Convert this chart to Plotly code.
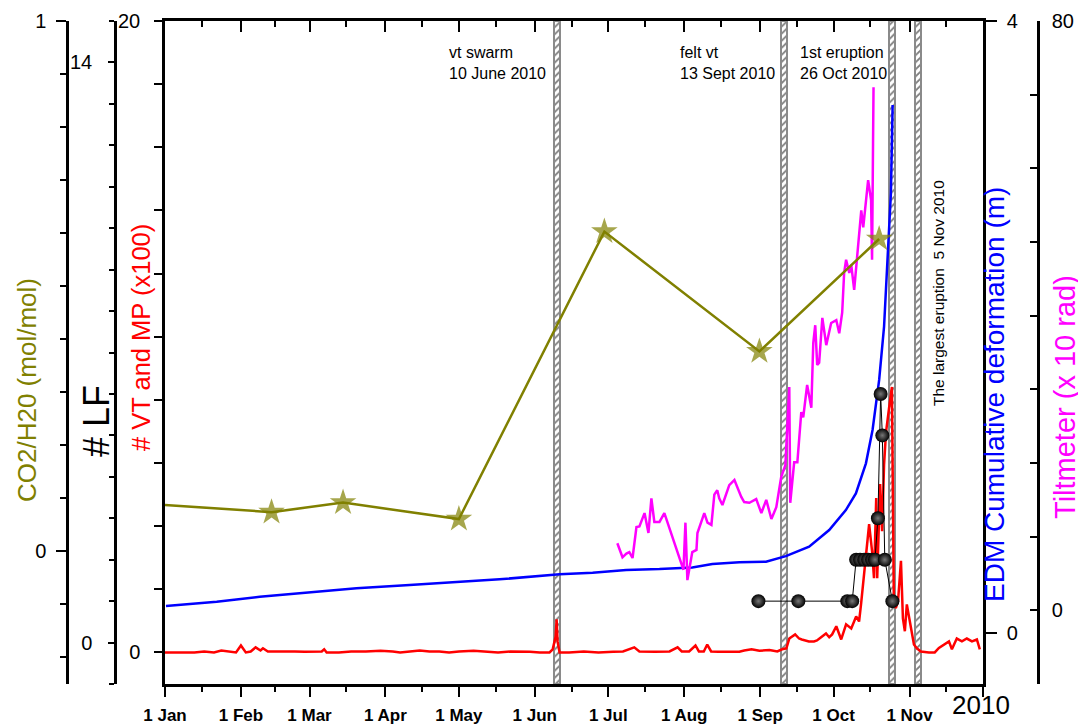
import plotly.graph_objects as go
from datetime import datetime, timedelta

# ---------------- data ----------------
month_ticks = ['2010-01-01', '2010-02-01', '2010-03-01', '2010-04-01', '2010-05-01', '2010-06-01',
               '2010-07-01', '2010-08-01', '2010-09-01', '2010-10-01', '2010-11-01', '2010-12-01']
month_labels = ['1 Jan', '1 Feb', '1 Mar', '1 Apr', '1 May', '1 Jun',
                '1 Jul', '1 Aug', '1 Sep', '1 Oct', '1 Nov', '']
mid_month_ticks = ['2010-01-16', '2010-02-15', '2010-03-16', '2010-04-16', '2010-05-16', '2010-06-16',
                   '2010-07-16', '2010-08-16', '2010-09-16', '2010-10-16', '2010-11-16']
year_label = '2010'

# event markers (hatched bars)
event_dates = ['2010-06-10 00:00', '2010-09-10 22:00', '2010-10-24 22:00', '2010-11-04 12:00']
event_texts = ['vt swarm<br>10 June 2010', 'felt vt<br>13 Sept 2010', '1st eruption<br>26 Oct 2010']
event_vertical_text = 'The largest eruption \u00a05 Nov 2010'

# days since 1 Jan 2010
red_day = [0, 4, 6, 12, 16, 20, 23, 26, 29, 31,
           33, 35, 37, 39, 40, 42, 45, 49, 53, 57,
           61, 64, 65, 66, 71, 76, 82, 88, 93, 96,
           100, 104, 108, 112, 116, 120, 126, 132, 136, 141,
           145, 149, 153, 157, 158.3, 159.5, 159.9, 160.3, 161.1, 165,
           171, 177, 183, 187, 191.6, 193.7, 200, 206, 209.3, 211,
           214, 216.6, 218, 220, 221.4, 223, 226, 230, 234.5, 236.5,
           239.5, 242.7, 246.8, 250, 252, 253.7, 254.9, 257.3, 258.9, 260,
           262.9, 265, 266.2, 267.9, 269.9, 271.2, 272.4, 274.1, 276.1, 278.1,
           280.2, 282.2, 283.4, 284.2, 285.5, 287.5, 288.7, 289.5, 290.4, 290.8,
           292, 292.8, 293.6, 294.4, 295.6, 296.8, 297.6, 298.4, 299.3, 300.5,
           301.3, 302.1, 302.9, 304.5, 305.8, 307, 308.6, 311.9, 314.3, 316,
           318, 320.1, 321.3, 323.3, 325.4, 327.4, 329.5, 331.5, 332.7]
red_vt_mp = [0, 0, 0.02, 0, 0.03, 0, 0.06, 0.03, 0, 0.22,
             0, 0.03, 0.16, 0.06, 0.13, 0.03, 0.03, 0.05, 0.03, 0.02,
             0.03, 0.03, 0.1, 0, 0, 0.03, 0.03, 0.05, 0.03, 0,
             0.03, 0.06, 0.03, 0.03, 0, 0.03, 0.05, 0.03, 0, 0.03,
             0.03, 0.02, 0, 0, 0.1, 0.5, 1.05, 0.35, 0, 0,
             0.03, 0, 0.02, 0.03, 0.16, 0.03, 0.02, 0.03, 0.16, 0.03,
             0.03, 0.22, 0.03, 0.03, 0.25, 0.03, 0.02, 0.02, 0.02, 0.06,
             0.1, 0.05, 0.08, 0.03, 0.1, 0.13, 0.44, 0.57, 0.44, 0.41,
             0.35, 0.35, 0.38, 0.48, 0.6, 0.48, 0.57, 0.83, 0.41, 0.89,
             0.76, 1.14, 0.98, 1.52, 2.48, 4.06, 3.21, 2.35, 4.89, 2.35,
             5.33, 3.84, 5.94, 6.98, 7.71, 8.41, 1.62, 1.4, 1.62, 2.9,
             1.08, 0.67, 1.52, 0.76, 0.25, 0.13, 0.03, 0, 0, 0.14,
             0.25, 0.35, 0.1, 0.44, 0.35, 0.44, 0.35, 0.41, 0.1]

edm_day = [0.4, 21.1, 38.7, 61.9, 78.2, 99.9, 120.3, 136.6, 161.1, 174.6,
           188.3, 201.9, 215.3, 223.5, 234.5, 245.4, 253.5, 263, 271.2, 278,
           282.1, 286.2, 288.9, 291.6, 293.6, 295.4, 296.4, 297.1]
edm_m = [0.176, 0.205, 0.237, 0.269, 0.292, 0.314, 0.335, 0.351, 0.384, 0.394,
         0.412, 0.418, 0.429, 0.451, 0.462, 0.466, 0.503, 0.564, 0.673, 0.804,
         0.913, 1.109, 1.327, 1.654, 2.002, 2.525, 2.876, 3.451]

tilt_day = [184.7, 186.8, 188.4, 189.6, 190.9, 192.5, 193.7, 195.8, 197.4, 198.6,
            199.8, 201.9, 203.9, 208.0, 211.7, 212.5, 213.3, 215.3, 217.0, 217.4,
            220.2, 221.5, 223.1, 224.3, 225.5, 226.3, 227.6, 230.4, 232.5, 235.3,
            236.5, 238.6, 241.4, 243.5, 245.5, 247.6, 249.6, 251.6, 253.3, 254.9,
            255.3, 256.9, 258.2, 259.8, 260.6, 262.2, 263.9, 264.7, 265.5, 266.3,
            267.1, 268.4, 270.0, 272.0, 274.1, 275.3, 276.5, 277.3, 278.1, 279.4,
            280.2, 281.4, 282.6, 284.3, 285.1, 286.3, 287.1, 288.3, 288.7, 289.1,
            289.3]
tilt_val = [9.1, 7.2, 7.7, 7.9, 7.1, 11.3, 11.4, 13.2, 10.5, 15.2,
            12.0, 12.0, 13.2, 9.1, 5.5, 11.9, 4.1, 7.9, 8.2, 10.5,
            13.2, 11.9, 11.6, 15.7, 16.3, 15.2, 14.3, 17.0, 17.7, 15.4,
            14.7, 14.6, 15.1, 13.2, 15.0, 12.4, 14.0, 18.1, 19.7, 30.3,
            14.6, 20.1, 20.1, 26.9, 26.2, 30.6, 27.5, 36.3, 38.7, 33.3,
            33.6, 39.7, 36.0, 39.0, 39.4, 37.6, 40.4, 45.8, 47.6, 45.8,
            46.9, 43.5, 47.6, 54.3, 52.0, 56.1, 58.4, 55.7, 47.6, 63.4,
            71.0]

co2_day = [0, 43.5, 72.7, 120.0, 179.4, 242.7, 291.6]
co2_h2o = [0.0875, 0.074, 0.092, 0.061, 0.603, 0.377, 0.589]

lf_day = [242.3, 258.6, 278.6, 280.6, 282.2, 283.8, 285.5, 287.1, 288.7, 289.9,
          291.1, 292.2, 292.9, 293.9, 297.0]
lf_count = [1, 1, 1, 1, 2, 2, 2, 2, 2, 2, 3, 6, 5, 2, 1]

# ---------------- layout helpers ----------------
BODY = 8                       # page margin around the figure
W, H = 1086 - BODY, 727 - BODY
ML, MR, MT, MB = 12, 20, 13, 43
PW, PH = W - ML - MR, H - MT - MB
X0 = BODY + ML                 # page x of paper 0
Y0 = BODY + H - MB             # page y of paper 0
FONT = 'Liberation Sans, Arial, sans-serif'


def px(x):
    return (x - X0) / PW


def py(y):
    return (Y0 - y) / PH


BASE = datetime(2010, 1, 1)


def to_dates(days):
    return [BASE + timedelta(days=d) for d in days]


OLIVE, RED, BLUE, MAGENTA = '#808000', '#ff0000', '#0000ff', '#ff00ff'
XDOM = [px(165), px(983)]

fig = go.Figure()

# hatched event bars (base axis)
fig.add_trace(go.Bar(
    x=event_dates, y=[1] * len(event_dates), width=[2.4 * 86400000] * len(event_dates),
    marker=dict(color='white', line=dict(color='#8a8a8a', width=2),
                pattern=dict(shape='/', fgcolor='black', bgcolor='white', size=5, solidity=0.35)),
    xaxis='x', yaxis='y', hoverinfo='skip', showlegend=False))

fig.add_trace(go.Scatter(x=to_dates(red_day), y=red_vt_mp, mode='lines',
                         line=dict(color=RED, width=2.5), yaxis='y2', showlegend=False))
fig.add_trace(go.Scatter(x=to_dates(edm_day), y=edm_m, mode='lines',
                         line=dict(color=BLUE, width=2.5), yaxis='y3', showlegend=False))
fig.add_trace(go.Scatter(x=to_dates(tilt_day), y=tilt_val, mode='lines',
                         line=dict(color=MAGENTA, width=2.5), yaxis='y4', showlegend=False))
fig.add_trace(go.Scatter(x=to_dates(co2_day), y=co2_h2o, mode='lines+markers',
                         line=dict(color=OLIVE, width=2.5),
                         marker=dict(symbol='star', size=[0] + [20] * (len(co2_day) - 1), color=OLIVE,
                                     line=dict(width=0)),
                         yaxis='y5', showlegend=False))
fig.add_trace(go.Scatter(x=to_dates(lf_day), y=lf_count, mode='lines+markers',
                         line=dict(color='black', width=1),
                         marker=dict(symbol='circle', size=14, color='black',
                                     gradient=dict(type='radial', color='#777777'),
                                     line=dict(width=0)),
                         yaxis='y6', showlegend=False))
# top mirror axis carrier
fig.add_trace(go.Scatter(x=['2010-06-01'], y=[0.5], xaxis='x2', yaxis='y', mode='markers',
                         marker=dict(opacity=0), hoverinfo='skip', showlegend=False))

tickfont = dict(family=FONT, size=20, color='black')


def yax(rng, major, major_txt, minor_dtick, side, anchor, position=None, ticks='outside',
        ticklen=8, minorlen=5, standoff=2):
    d = dict(range=rng, overlaying='y', side=side, anchor=anchor,
             tickmode='array', tickvals=major, ticktext=major_txt,
             ticks=ticks, ticklen=ticklen, tickwidth=2, tickcolor='black',
             ticklabelstandoff=standoff,
             showline=True, linewidth=2.5, linecolor='black', showgrid=False, zeroline=False,
             tickfont=tickfont)
    if minor_dtick:
        d['minor'] = dict(tick0=0, dtick=minor_dtick, ticks=ticks, ticklen=minorlen,
                          tickwidth=2, tickcolor='black', showgrid=False)
    if position is not None:
        d['position'] = position
    return d


fig.update_layout(
    width=W, height=H,
    margin=dict(l=ML, r=MR, t=MT, b=MB, autoexpand=False),
    paper_bgcolor='white', plot_bgcolor='white', showlegend=False,
    bargap=0,
    xaxis=dict(domain=XDOM, type='date', range=['2010-01-01', '2010-12-01'],
               tickmode='array', tickvals=month_ticks,
               ticktext=['<b>%s</b>' % t for t in month_labels],
               ticks='outside', ticklen=10, tickwidth=2, tickcolor='black',
               ticklabelstandoff=4,
               minor=dict(tickmode='array', tickvals=mid_month_ticks, ticks='outside', ticklen=5,
                          tickwidth=2, tickcolor='black', showgrid=False),
               showline=True, linewidth=2.5, linecolor='black', showgrid=False, zeroline=False,
               tickfont=dict(family=FONT, size=17, color='black'), anchor='y'),
    xaxis2=dict(overlaying='x', side='top', anchor='y', type='date', range=['2010-01-01', '2010-12-01'],
                tickmode='array', tickvals=month_ticks, showticklabels=False,
                ticks='inside', ticklen=11, tickwidth=2, tickcolor='black',
                minor=dict(tickmode='array', tickvals=mid_month_ticks, ticks='inside', ticklen=6,
                           tickwidth=2, tickcolor='black', showgrid=False),
                showline=True, linewidth=2.5, linecolor='black', showgrid=False, zeroline=False),
    yaxis=dict(range=[0, 1], visible=False, domain=[0, 1], fixedrange=True),
    yaxis2=yax([-1, 20], [0, 20], ['0', '20'], 2, 'left', 'x', ticklen=8, minorlen=8, standoff=10),
    yaxis3=yax([-0.333, 4], [0, 4], ['0', '4'], None, 'right', 'x', ticklen=11, standoff=6),
    yaxis4=yax([-10, 80], [0, 80], ['0', '80'], 10, 'right', 'free', position=px(1038),
               ticks='inside', ticklen=7, minorlen=7, standoff=8),
    yaxis5=yax([-0.25, 1], [0, 1], ['0', '1'], 0.1, 'left', 'free', position=px(67),
               ticklen=10, minorlen=6, standoff=6),
    yaxis6=yax([-1, 15], [0, 14], ['0', '14'], 1, 'left', 'free', position=px(115),
               ticklen=6, minorlen=5, standoff=12),
)

ann = []
# axis titles
titles = [
    ('CO2/H20 (mol/mol)', 27, 390, 26, OLIVE),
    ('# LF', 96, 421, 36, 'black'),
    ('# VT and MP (x100)', 141, 338, 25.5, RED),
    ('EDM Cumulative deformation (m)', 994, 394, 28, BLUE),
    ('Tiltmeter (x 10 rad)', 1065, 397, 29, MAGENTA),
]
for txt, x, y, s, c in titles:
    ann.append(dict(text=txt, x=px(x), y=py(y), xref='paper', yref='paper', textangle=-90,
                    showarrow=False, xanchor='center', yanchor='middle',
                    font=dict(family=FONT, size=s, color=c)))
# event labels
for txt, x in zip(event_texts, [447, 678, 798]):
    ann.append(dict(text=txt, x=px(x), y=py(63), xref='paper', yref='paper', showarrow=False,
                    xanchor='left', yanchor='middle', align='left',
                    font=dict(family=FONT, size=16, color='black')))
ann.append(dict(text=event_vertical_text, x=px(938), y=py(293), xref='paper', yref='paper',
                textangle=-90, showarrow=False, xanchor='center', yanchor='middle',
                font=dict(family=FONT, size=15.5, color='black')))
ann.append(dict(text=year_label, x=px(981), y=py(705), xref='paper', yref='paper', showarrow=False,
                xanchor='center', yanchor='middle', font=dict(family=FONT, size=26, color='black')))
fig.update_layout(annotations=ann)

fig.write_html('out.html')
